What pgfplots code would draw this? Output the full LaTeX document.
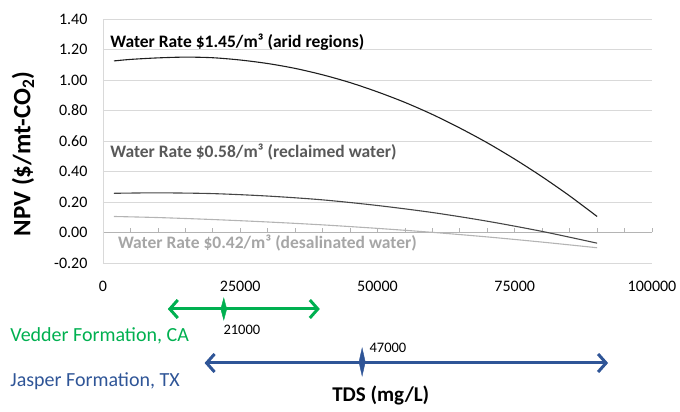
\documentclass[border=0pt]{standalone}
\usepackage{pgfplots}
\pgfplotsset{compat=1.18}
\usepackage{fontspec}
\setmainfont{Carlito}
\usetikzlibrary{arrows.meta}
\definecolor{gridc}{RGB}{217,217,217}
\definecolor{tickc}{RGB}{180,180,180}
\definecolor{vgreen}{RGB}{0,176,80}
\definecolor{jblue}{RGB}{47,85,151}
\definecolor{c1}{RGB}{30,30,30}
\definecolor{c2}{RGB}{70,70,70}
\definecolor{c3}{RGB}{180,180,180}
\definecolor{t2}{RGB}{89,89,89}
\definecolor{t3}{RGB}{166,166,166}
\begin{document}
\begin{tikzpicture}
\path[use as bounding box] (0pt,0pt) rectangle (680pt,412pt);
\begin{axis}[
  at={(103pt,149pt)}, anchor=south west,
  scale only axis, width=549pt, height=244pt,
  xmin=0, xmax=100000, ymin=-0.2, ymax=1.4,
  axis y line*=left, axis x line*=middle,
  hide obscured x ticks=false,
  y axis line style={draw=gridc, line width=0.8pt},
  x axis line style={draw=tickc, line width=0.8pt},
  xtick={0,25000,50000,75000,100000},
  xticklabels={0,25000,50000,75000,100000},
  minor x tick num=4,
  xtick align=inside,
  major tick length=4pt, minor tick length=4pt,
  x tick style={draw=tickc, line width=0.8pt},
  ytick={-0.2,0,0.2,0.4,0.6,0.8,1.0,1.2,1.4},
  yticklabels={-0.20,0.00,0.20,0.40,0.60,0.80,1.00,1.20,1.40},
  ytick style={draw=none},
  ymajorgrids, grid style={draw=gridc, line width=0.8pt},
  scaled x ticks=false,
  xticklabel style={anchor=center, yshift=-54pt, font=\fontsize{16}{18}\selectfont},
  yticklabel style={font=\fontsize{16}{18}\selectfont, xshift=-12pt},
  ylabel={NPV (\$/mt-CO\textsubscript{2})},
  every axis y label/.style={at={(axis description cs:0,0.447)}, xshift=-80pt, rotate=90, anchor=center, font=\bfseries\fontsize{25}{28}\selectfont},
  xlabel={TDS (mg/L)},
  every axis x label/.style={at={(axis description cs:0.506,-0.541)}, anchor=center, font=\bfseries\fontsize{21}{24}\selectfont},
  clip=false,
]
\addplot[c1, line width=1.1pt, smooth] coordinates {
(2000,1.125)(5000,1.135)(10000,1.145)(15000,1.150)(20000,1.146)(25000,1.131)(30000,1.108)(35000,1.076)(40000,1.034)(45000,0.983)(50000,0.922)(55000,0.853)(60000,0.774)(65000,0.685)(70000,0.588)(75000,0.481)(80000,0.365)(85000,0.240)(90000,0.105)};
\addplot[c2, line width=1.1pt, smooth] coordinates {
(2000,0.257)(10000,0.260)(20000,0.255)(30000,0.239)(40000,0.214)(50000,0.177)(60000,0.131)(70000,0.074)(80000,0.007)(90000,-0.070)};
\addplot[c3, line width=1.1pt, smooth] coordinates {
(2000,0.105)(10000,0.098)(20000,0.085)(30000,0.069)(40000,0.050)(50000,0.027)(60000,0.001)(70000,-0.029)(80000,-0.063)(90000,-0.100)};
\node[anchor=west, font=\bfseries\fontsize{17.5}{20}\selectfont, text=black, inner sep=0pt] at (axis cs:1300,1.246) {Water Rate \$1.45/m³ (arid regions)};
\node[anchor=west, font=\bfseries\fontsize{17.5}{20}\selectfont, text=t2, inner sep=0pt] at (axis cs:1300,0.525) {Water Rate \$0.58/m³ (reclaimed water)};
\node[anchor=west, font=\bfseries\fontsize{17.5}{20}\selectfont, text=t3, inner sep=0pt] at (axis cs:2700,-0.066) {Water Rate \$0.42/m³ (desalinated water)};
\end{axis}
\begin{axis}[
  at={(103pt,12pt)}, anchor=south west,
  scale only axis, width=549pt, height=100pt,
  xmin=0, xmax=100000, ymin=300, ymax=400, y dir=reverse,
  hide axis, clip=false,
]
\addplot[vgreen, line width=3pt, {Straight Barb[length=8pt,width=18pt]}-{Straight Barb[length=8pt,width=18pt]}] coordinates {(11800,309)(39500,309)};
\addplot[only marks, mark=diamond*, mark size=11pt, mark options={xscale=0.36, fill=vgreen, draw=vgreen}] coordinates {(22000,309)};
\addplot[jblue, line width=3pt, {Straight Barb[length=8pt,width=18pt]}-{Straight Barb[length=8pt,width=18pt]}] coordinates {(18500,363)(92000,363)};
\addplot[only marks, mark=diamond*, mark size=14pt, mark options={xscale=0.3, fill=jblue, draw=jblue}] coordinates {(47200,362)};
\node[font=\fontsize{14.5}{16}\selectfont] at (axis cs:25300,330) {21000};
\node[font=\fontsize{14.5}{16}\selectfont] at (axis cs:51900,348) {47000};
\node[anchor=west, inner sep=0pt, text=vgreen, font=\fontsize{20}{22}\selectfont] at (axis cs:-16900,336) {Vedder Formation, CA};
\node[anchor=west, inner sep=0pt, text=jblue, font=\fontsize{20}{22}\selectfont] at (axis cs:-16900,381) {Jasper Formation, TX};
\end{axis}
\end{tikzpicture}
\end{document}
